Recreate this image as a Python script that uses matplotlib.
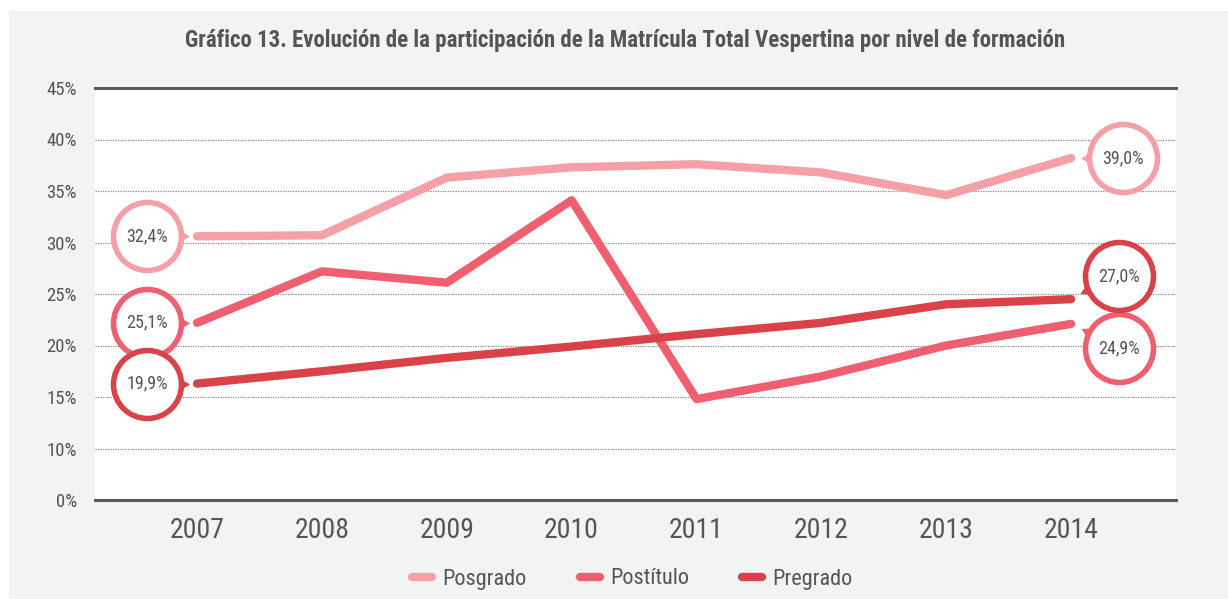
import matplotlib
matplotlib.use("Agg")
import matplotlib.pyplot as plt
import matplotlib.transforms as mtransforms
from matplotlib import font_manager
from matplotlib.patches import Rectangle
import numpy as np

# ---------------- data ----------------
years = ["2007", "2008", "2009", "2010", "2011", "2012", "2013", "2014"]
series_names = ["Posgrado", "Postítulo", "Pregrado"]
posgrado = [30.6, 30.7, 36.3, 37.3, 37.6, 36.8, 34.6, 38.2]
postitulo = [22.2, 27.2, 26.1, 34.1, 14.8, 17.0, 20.0, 22.1]
pregrado = [16.3, 17.5, 18.8, 19.9, 21.1, 22.2, 24.0, 24.5]
label_first = ["32,4%", "25,1%", "19,9%"]
label_last = ["39,0%", "24,9%", "27,0%"]
y_ticks = [5, 10, 15, 20, 25, 30, 35, 40, 45]
y_tick_labels = ["0%", "10%", "15%", "20%", "25%", "30%", "35%", "40%", "45%"]
title = "Gráfico 13. Evolución de la participación de la Matrícula Total Vespertina por nivel de formación"

colors = ["#F4A0A6", "#EE6070", "#D94249"]
text_color = "#555555"

available = {f.name for f in font_manager.fontManager.ttflist}
main_font = "DejaVu Sans"
for cand in ["Roboto Condensed", "PT Sans Narrow", "Open Sans Condensed", "Asap Condensed",
             "Sofia Sans Condensed", "Liberation Sans Narrow"]:
    if cand in available:
        main_font = cand
        break
FONT = [main_font, "DejaVu Sans"]
plt.rcParams["font.family"] = FONT

W, H, DPI = 1228, 599, 100
fig = plt.figure(figsize=(W / DPI, H / DPI), dpi=DPI, facecolor="white")
fig.patches.append(Rectangle((9 / W, 0), 1 - 9 / W, 1 - 11 / H, transform=fig.transFigure,
                             facecolor="#F2F3F3", edgecolor="none", zorder=-10))

ax = fig.add_axes([95 / W, 1 - 500 / H, (1176 - 95) / W, (500 - 88) / H])
ax.set_facecolor("white")
x = np.arange(len(years))
all_series = [posgrado, postitulo, pregrado]
for vals, c, name in zip(all_series, colors, series_names):
    ax.plot(x, vals, color=c, lw=6.0, solid_capstyle="round", solid_joinstyle="round",
            label=name, zorder=3)

ax.set_xlim(-0.817, 7.84)
ax.set_ylim(5, 45)
ax.set_yticks(y_ticks)
ax.set_yticklabels(y_tick_labels)
ax.set_xticks(x)
ax.set_xticklabels(years)
ax.tick_params(axis="y", length=0, pad=13, labelsize=13.5, labelcolor=text_color)
ax.tick_params(axis="x", length=0, pad=12, labelsize=20, labelcolor=text_color)
for yv in y_ticks[1:-1]:
    ax.axhline(yv, color="#888888", lw=0.9, ls=(0, (1, 1)), zorder=1)
for s in ["left", "right"]:
    ax.spines[s].set_visible(False)
for s in ["top", "bottom"]:
    ax.spines[s].set_color("#5B5B5B")
    ax.spines[s].set_linewidth(2.2)

# ---------------- bubbles ----------------
R = 34  # px radius
def px(dx, dy):
    return mtransforms.ScaledTranslation(dx / DPI, dy / DPI, fig.dpi_scale_trans)

def bubble(xd, yd, dx, dy, ang_deg, text, color):
    tr = ax.transData + px(dx, dy)
    ax.plot([xd], [yd], marker="o", ms=2 * R * 0.72, mfc="white", mec=color,
            mew=4.0, transform=tr, zorder=5, clip_on=False)
    a = np.deg2rad(ang_deg)
    tx, ty = dx + (R + 3) * np.cos(a), dy + (R + 3) * np.sin(a)
    trp = ax.transData + px(tx, ty)
    ax.plot([xd], [yd], marker=(3, 0, ang_deg - 90), ms=8, mfc=color, mec=color,
            mew=0, transform=trp, zorder=4, clip_on=False)
    ax.text(xd, yd, text, transform=tr, ha="center", va="center", fontsize=13,
            color=text_color, zorder=6, clip_on=False)

for i, (vals, c) in enumerate(zip(all_series, colors)):
    bubble(x[0], vals[0], -50, 0, 0, label_first[i], c)

bubble(x[-1], posgrado[-1], 52, 0, 180, label_last[0], colors[0])
bubble(x[-1], postitulo[-1], 48, -24, 153, label_last[1], colors[1])
bubble(x[-1], pregrado[-1], 48, 23, 204, label_last[2], colors[2])

# ---------------- title ----------------
fig.text(0.509, 1 - 40 / H, title, ha="center", va="center", fontsize=16.5,
         fontweight="bold", color=text_color)

# ---------------- legend ----------------
leg = fig.legend(loc="center", bbox_to_anchor=(0.515, 1 - 579 / H), ncol=3, frameon=False,
                 fontsize=16, handlelength=0.9, handletextpad=0.45, columnspacing=2.4,
                 labelcolor=text_color)
for h in leg.get_lines():
    h.set_linewidth(6.0)
    h.set_solid_capstyle("round")

fig.savefig("out.png", dpi=DPI, facecolor=fig.get_facecolor())
